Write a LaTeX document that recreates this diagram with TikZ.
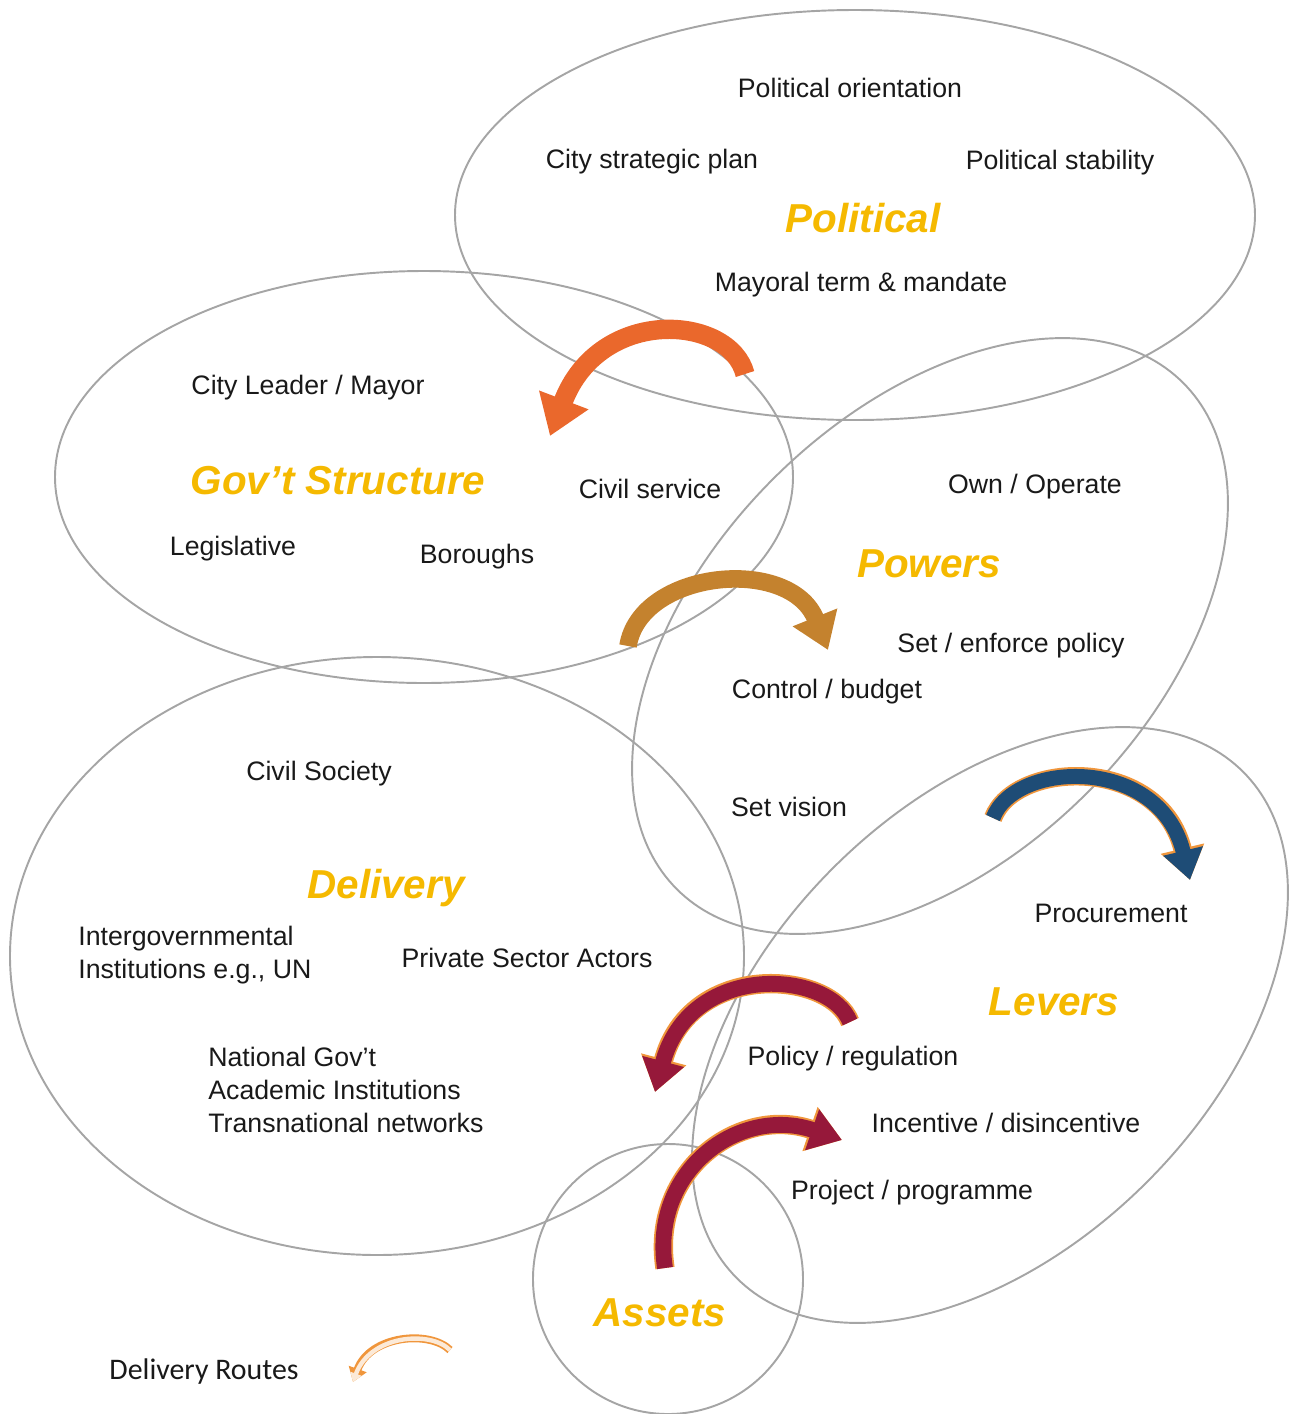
\documentclass[tikz,border=0pt]{standalone}
\usepackage{fontspec}
\setmainfont{Liberation Sans}
\newfontfamily\legendfont{Carlito}
\usetikzlibrary{arrows.meta}

\definecolor{ringgray}{RGB}{165,165,165}
\definecolor{titleyellow}{RGB}{245,185,0}
\definecolor{labelblack}{RGB}{25,25,25}
\definecolor{routeorange}{RGB}{234,104,44}
\definecolor{routebrown}{RGB}{196,130,46}
\definecolor{routeblue}{RGB}{30,76,118}
\definecolor{routered}{RGB}{150,24,58}
\definecolor{glowcolor}{RGB}{240,150,60}

\tikzset{
  ring/.style={draw=ringgray, line width=1.1pt},
  item/.style={text=labelblack, font=\fontsize{15.2}{18.6}\selectfont, inner sep=0pt},
  title/.style={text=titleyellow, font=\fontsize{23}{27}\selectfont\bfseries\itshape, inner sep=0pt},
  route/.style={line width=#1, -{Triangle[length=0pt 2.0, width=0pt 2.6]}},
  route/.default=10pt,
  glowing/.style={preaction={draw=glowcolor, line width=#1, -{Triangle[length=0pt 1.75, width=0pt 2.3]}}},
  glowing/.default=12pt
}

\begin{document}
\begin{tikzpicture}[x=0.02cm, y=-0.02cm]
  \useasboundingbox (0,0) rectangle (1294,1414);

  % Drawing ellipse Political
  \draw [ring] (855,215) ellipse [x radius=400, y radius=205];
  % Drawing ellipse Gov't Structure
  \draw [ring] (424,477) ellipse [x radius=369, y radius=206];
  % Drawing ellipse Powers
  \draw [ring, shift={(930,636)}, rotate=45] (0,0) ellipse [x radius=358, y radius=222];
  % Drawing ellipse Delivery
  \draw [ring] (377,956) ellipse [x radius=367, y radius=299];
  % Drawing ellipse Levers
  \draw [ring, shift={(990,1025)}, rotate=45] (0,0) ellipse [x radius=358, y radius=222];
  % Drawing circle Assets
  \draw [ring] (668,1279) circle (135);

  % Texts of Political
  \node [item] (polorient) at (850,88) {Political orientation};
  \node [item] (citystrat) at (652,162) {City strategic plan};
  \node [item] (polstab) at (1060,163) {Political stability};
  \node [title] (political) at (863,218) {Political};
  \node [item] (mayoral) at (861,285) {Mayoral term \& mandate};

  % Texts of Gov't Structure
  \node [item] (leader) at (308,388) {City Leader / Mayor};
  \node [title] (govt) at (338,481) {Gov't Structure};
  \node [item] (civilserv) at (650,489) {Civil service};
  \node [item] (legis) at (233,549) {Legislative};
  \node [item] (boroughs) at (477,557) {Boroughs};

  % Texts of Powers
  \node [item] (ownop) at (1035,487) {Own / Operate};
  \node [title] (powers) at (929,564) {Powers};
  \node [item] (enforce) at (1011,646) {Set / enforce policy};
  \node [item] (budget) at (827,692) {Control / budget};
  \node [item] (vision) at (789,807) {Set vision};

  % Texts of Delivery
  \node [item] (civsoc) at (319,774) {Civil Society};
  \node [title] (delivery) at (386,888) {Delivery};
  \node [item, anchor=west, align=left] (intergov) at (78,955) {Intergovernmental\\Institutions e.g., UN};
  \node [item] (private) at (527,958) {Private Sector Actors};
  \node [item, anchor=west, align=left] (national) at (208,1090) {National Gov't\\Academic Institutions\\Transnational networks};

  % Texts of Levers
  \node [item] (procure) at (1111,913) {Procurement};
  \node [title] (levers) at (1054,1002) {Levers};
  \node [item] (policy) at (853,1059) {Policy / regulation};
  \node [item] (incent) at (1006,1123) {Incentive / disincentive};
  \node [item] (project) at (912,1193) {Project / programme};

  % Text of Assets
  \node [title] (assets) at (660,1313) {Assets};

  % Drawing delivery routes
  \draw [route=11pt, routeorange] (745,374) .. controls (730,315) and (600,305) .. (550,436);
  \draw [route=10pt, routebrown] (628,646) .. controls (640,570) and (790,555) .. (828,650);
  \draw [route=8.5pt, routeblue, glowing=10.5pt] (993,818) .. controls (1015,760) and (1160,755) .. (1190,880);
  \draw [route=9pt, routered, glowing=11pt] (850,1022) .. controls (830,970) and (690,960) .. (655,1092);
  \draw [route=9pt, routered, glowing=11pt] (665,1268) .. controls (650,1170) and (740,1105) .. (842,1140);

  % Legend
  \node [text=labelblack, font=\legendfont\fontsize{17}{20}\selectfont, inner sep=0pt] (legend) at (204,1372) {Delivery Routes};
  \draw [route=2.5pt, white!80!glowcolor, glowing=4.5pt] (450,1350) .. controls (430,1330) and (370,1335) .. (353,1382);
\end{tikzpicture}
\end{document}
